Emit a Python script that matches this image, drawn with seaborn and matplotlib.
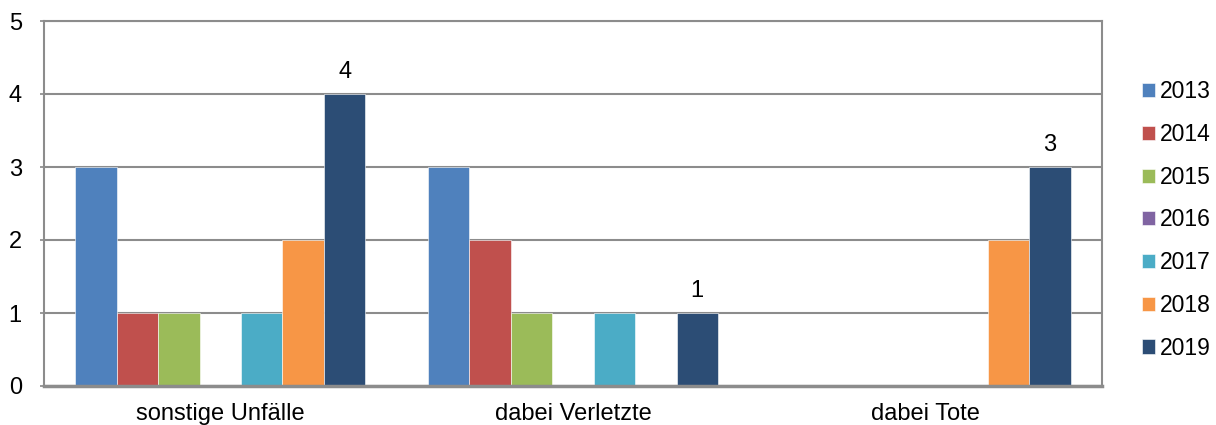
import pandas as pd
import seaborn as sns
import matplotlib.pyplot as plt

categories = ["sonstige Unfälle", "dabei Verletzte", "dabei Tote"]
years = ["2013", "2014", "2015", "2016", "2017", "2018", "2019"]
v2013 = [3, 3, 0]
v2014 = [1, 2, 0]
v2015 = [1, 1, 0]
v2016 = [0, 0, 0]
v2017 = [1, 1, 0]
v2018 = [2, 0, 2]
v2019 = [4, 1, 3]
colors = ["#4F81BD", "#C0504D", "#9BBB59", "#8064A2", "#4BACC6", "#F79646", "#2C4D75"]

series = [v2013, v2014, v2015, v2016, v2017, v2018, v2019]
rows = []
for y, vals in zip(years, series):
    for c, v in zip(categories, vals):
        rows.append({"Kategorie": c, "Jahr": y, "Anzahl": v})
df = pd.DataFrame(rows)

sns.set_theme(style="white")
plt.rcParams["font.family"] = ["Liberation Sans", "DejaVu Sans"]
plt.rcParams["text.color"] = "black"
plt.rcParams["xtick.color"] = "black"
plt.rcParams["ytick.color"] = "black"

fig = plt.figure(figsize=(12.16, 4.25), dpi=100)
ax = fig.add_axes([44 / 1216, 1 - 386 / 425, (1102 - 44) / 1216, (386 - 21) / 425])

sns.barplot(data=df, x="Kategorie", y="Anzahl", hue="Jahr", palette=colors, saturation=1,
            width=0.822, gap=0, edgecolor="white", linewidth=0.4, ax=ax, legend=True)

ax.set_ylim(0, 5)
ax.set_yticks(range(0, 6))
ax.set_xlim(-0.5, 2.5)
ax.yaxis.grid(True, color="#8c8c8c", linewidth=1.5)
ax.set_axisbelow(True)
for side in ["left", "right", "top"]:
    ax.spines[side].set_color("#8c8c8c")
    ax.spines[side].set_linewidth(1.5)
ax.spines["bottom"].set_color("#8c8c8c")
ax.spines["bottom"].set_linewidth(2.5)
ax.set_xlabel("")
ax.set_ylabel("")
ax.tick_params(axis="y", labelsize=17, length=3, color="#8c8c8c", labelcolor="black", pad=13, left=True)
ax.tick_params(axis="x", labelsize=17, length=0, labelcolor="black", pad=12)

ax.bar_label(ax.containers[-1], labels=[str(v) for v in v2019], fontsize=17, padding=8, color="black")

handles, labels = ax.get_legend_handles_labels()
ax.legend(handles, labels, loc="center left", bbox_to_anchor=(1.029, 0.455), frameon=False,
          fontsize=16.5, handlelength=0.57, handleheight=0.57, handletextpad=0.2,
          labelspacing=0.86, borderaxespad=0, labelcolor="black")

fig.savefig("out.png", dpi=100)
